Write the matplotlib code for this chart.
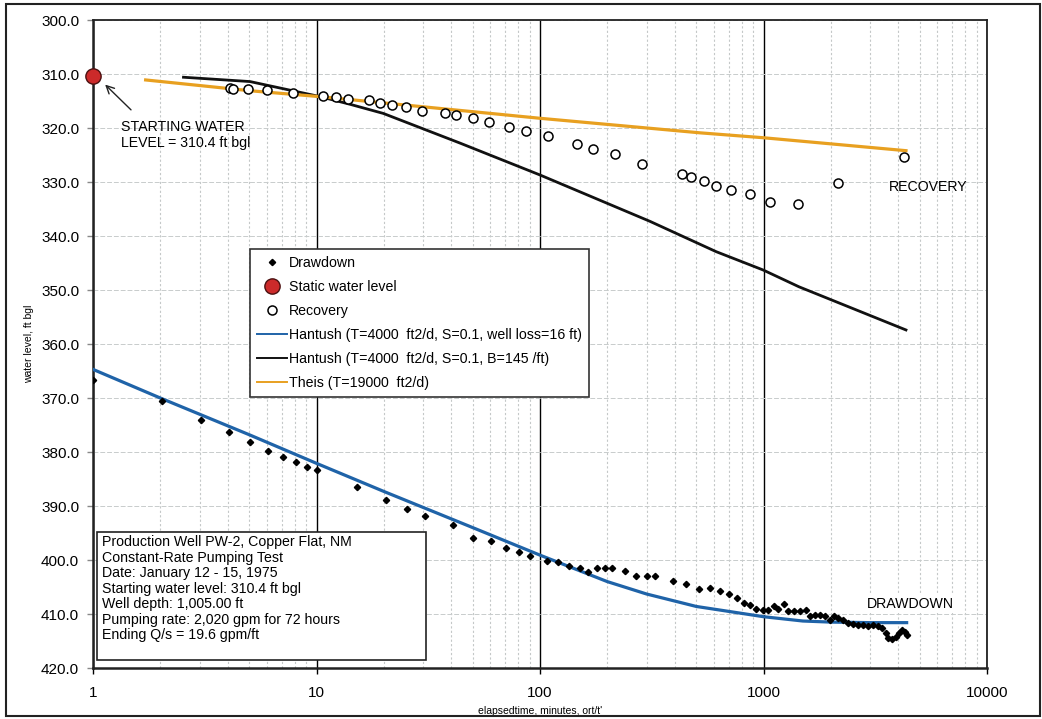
import numpy as np
import matplotlib
matplotlib.use("Agg")
import matplotlib.pyplot as plt
from matplotlib.patches import Rectangle
from matplotlib.ticker import LogLocator, FixedLocator, NullFormatter

plt.rcParams['font.family'] = ['Liberation Sans', 'DejaVu Sans']

# --- data ---
dd_time = [1.0, 2.04, 3.04, 4.07, 5.04, 6.05, 7.1, 8.1, 9.1, 10.1,
           15.2, 20.5, 25.3, 30.5, 40.7, 50.2, 60.6, 70.8, 80.8, 90.0,
           107.6, 120.5, 134.8, 150.6, 164.6, 180, 195, 210.5, 239, 268,
           300, 328, 394, 452, 512, 575, 639, 698, 765, 820,
           870, 930, 997, 1050, 1113, 1164, 1230, 1286, 1373, 1456,
           1549, 1614, 1700, 1790, 1885, 1986, 2070, 2163, 2277, 2395,
           2522, 2655, 2796, 2943, 3098, 3263, 3403, 3522, 3617, 3748,
           3917, 4048, 4167, 4297, 4372]
dd_level = [366.7, 370.6, 374.1, 376.3, 378.1, 379.8, 380.9, 381.9, 382.8, 383.4,
            386.5, 388.9, 390.6, 391.9, 393.6, 395.9, 396.5, 397.8, 398.5, 399.2,
            400.2, 400.3, 401.1, 401.5, 402.2, 401.4, 401.4, 401.4, 402.0, 403.0,
            403.0, 403.0, 403.8, 404.4, 405.4, 405.2, 405.8, 406.3, 407.0, 407.9,
            408.3, 409.0, 409.3, 409.3, 408.6, 409.1, 408.2, 409.4, 409.4, 409.4,
            409.3, 410.4, 410.2, 410.2, 410.4, 411.1, 410.4, 410.8, 411.2, 411.7,
            411.8, 412.0, 412.0, 412.3, 412.0, 412.2, 412.6, 413.5, 414.4, 414.6,
            414.2, 413.5, 413.0, 413.3, 413.9]

rec_ratio = [4.1, 4.24, 4.95, 5.98, 7.87, 10.7, 12.2, 13.8, 17.2, 19.2,
             21.7, 25.2, 29.8, 37.6, 42.2, 49.9, 59.2, 72.8, 86.7, 108.6,
             145.8, 173, 216.5, 286, 434, 476, 544, 612, 718, 870,
             1067, 1425, 2147, 4270]
rec_level = [312.5, 312.8, 312.8, 313.0, 313.6, 314.1, 314.3, 314.6, 314.9, 315.3,
             315.7, 316.2, 316.8, 317.2, 317.6, 318.1, 318.9, 319.8, 320.5, 321.5,
             323.0, 323.8, 324.9, 326.6, 328.5, 329.1, 329.8, 330.7, 331.4, 332.3,
             333.7, 334.0, 330.1, 325.4]

static_time = [1.0]
static_level = [310.4]

# Hantush, well loss
hw_time = [1, 2, 5, 10, 20, 50, 100, 200, 300, 500, 1000, 1500, 2000, 3000, 4370]
hw_level = [364.7, 370.0, 376.8, 382.1, 387.3, 394.0, 399.1, 404.0, 406.3, 408.6,
            410.5, 411.3, 411.5, 411.6, 411.6]

# Hantush, leaky
hl_time = [2.54, 5.04, 10.4, 14.1, 19.9, 43.9, 100, 311, 614, 997, 1440, 4340]
hl_level = [310.6, 311.4, 314.2, 315.6, 317.3, 322.8, 328.7, 337.3, 342.9, 346.3,
            349.4, 357.4]

# Theis
th_time = [1.72, 5.04, 10.4, 100, 522, 997, 4340]
th_level = [311.1, 313.1, 314.2, 318.2, 320.9, 321.8, 324.2]

y_ticks = [300, 310, 320, 330, 340, 350, 360, 370, 380, 390, 400, 410, 420]
x_ticks = [1, 10, 100, 1000, 10000]

info_lines = ["Production Well PW-2, Copper Flat, NM",
              "Constant-Rate Pumping Test",
              "Date: January 12 - 15, 1975",
              "Starting water level: 310.4 ft bgl",
              "Well depth: 1,005.00 ft",
              "Pumping rate: 2,020 gpm for 72 hours",
              "Ending Q/s = 19.6 gpm/ft"]

# --- figure ---
fig = plt.figure(figsize=(10.42, 7.19), dpi=100)
ax = fig.add_axes([93/1042, 1 - 668/719, 894/1042, 648/719])

ax.set_xscale('log')
ax.set_xlim(1, 10000)
ax.set_ylim(420, 300)

# grid
ax.xaxis.set_major_locator(FixedLocator(x_ticks))
ax.xaxis.set_minor_locator(LogLocator(base=10, subs=np.arange(2, 10)))
ax.xaxis.set_minor_formatter(NullFormatter())
ax.set_xticklabels([str(t) for t in x_ticks])
ax.set_yticks(y_ticks)
ax.set_yticklabels(["%.1f" % v for v in y_ticks])
ax.grid(True, which='minor', axis='x', color='#c4c8c8', linestyle=(0, (2, 2)), linewidth=0.8)
ax.grid(True, which='major', axis='x', color='black', linestyle='-', linewidth=1.0)
ax.grid(True, which='major', axis='y', color='#c8cccc', linestyle=(0, (5, 2)), linewidth=0.7)
ax.set_axisbelow(True)

ax.tick_params(axis='x', which='major', direction='out', length=4, width=1, pad=9,
               labelsize=11)
ax.tick_params(axis='x', which='minor', length=0)
ax.tick_params(axis='y', direction='out', length=4, width=1, color='#888888', pad=6,
               labelsize=11)
for s in ax.spines.values():
    s.set_color('#222222')
    s.set_linewidth(1.3)
ax.spines['bottom'].set_linewidth(1.8)
ax.spines['left'].set_linewidth(1.8)

# lines
ax.plot(hw_time, hw_level, color='#1f63a8', lw=2.3, zorder=3,
        label='Hantush (T=4000  ft2/d, S=0.1, well loss=16 ft)')
ax.plot(hl_time, hl_level, color='#111111', lw=2.0, zorder=3,
        label='Hantush (T=4000  ft2/d, S=0.1, B=145 /ft)')
ax.plot(th_time, th_level, color='#e8a020', lw=2.3, zorder=3,
        label='Theis (T=19000  ft2/d)')

# markers
ax.plot(dd_time, dd_level, linestyle='none', marker='D', markersize=3.2,
        color='black', zorder=4, label='Drawdown')
ax.plot(static_time, static_level, linestyle='none', marker='o', markersize=11,
        markerfacecolor='#cc2a2a', markeredgecolor='#4a1010', markeredgewidth=1.0,
        zorder=5, clip_on=False, label='Static water level')
ax.plot(rec_ratio, rec_level, linestyle='none', marker='o', markersize=6.5,
        markerfacecolor='white', markeredgecolor='black', markeredgewidth=1.1,
        zorder=4, label='Recovery')

# legend
handles, labels = ax.get_legend_handles_labels()
order = [3, 4, 5, 0, 1, 2]
leg = ax.legend([handles[i] for i in order], [labels[i] for i in order],
                loc='upper left', bbox_to_anchor=((250 - 93) / 894, 1 - (249 - 20) / 648),
                borderaxespad=0, fancybox=False, framealpha=1, edgecolor='#333333',
                fontsize=10.2, handlelength=2.1, handletextpad=0.15, labelspacing=0.7,
                borderpad=0.5, numpoints=1)
leg.get_frame().set_linewidth(1.2)
for line in leg.get_lines():
    if line.get_linestyle() != 'None':
        line.set_linewidth(1.4)

# annotation
ax.annotate('', xy=(1.11, 311.6), xytext=(1.51, 317.0),
            arrowprops=dict(arrowstyle='->', color='#222222', lw=1.0,
                            mutation_scale=14))
ax.text(1.33, 318.6, "STARTING WATER\nLEVEL = 310.4 ft bgl", fontsize=10.2,
        va='top', ha='left', linespacing=1.15)

ax.text(3644, 330.9, "RECOVERY", fontsize=10.2, va='center', ha='left')
ax.text(2895, 408.1, "DRAWDOWN", fontsize=10.2, va='center', ha='left',
        bbox=dict(facecolor='white', edgecolor='none', pad=1.5), zorder=2)

# info box
ax.add_patch(Rectangle(((97 - 93) / 894, 1 - (660 - 20) / 648), 329 / 894, 128 / 648,
                       transform=ax.transAxes, facecolor='white', edgecolor='#222222',
                       linewidth=1.2, zorder=6))
ax.text((102 - 93) / 894, 1 - (535 - 20) / 648, "\n".join(info_lines),
        transform=ax.transAxes, fontsize=10.2, va='top', ha='left',
        linespacing=1.14, zorder=7)

ax.set_ylabel("water level, ft bgl", fontsize=7.5, labelpad=5)
ax.set_xlabel("elapsedtime, minutes, ort/t'", fontsize=7.5, labelpad=4)

# outer frame
fig.add_artist(Rectangle((6 / 1042, 1 - 716 / 719), 1034 / 1042, 712 / 719,
                         transform=fig.transFigure, fill=False,
                         edgecolor='#222222', linewidth=1.5))

fig.savefig("out.png", dpi=100)
